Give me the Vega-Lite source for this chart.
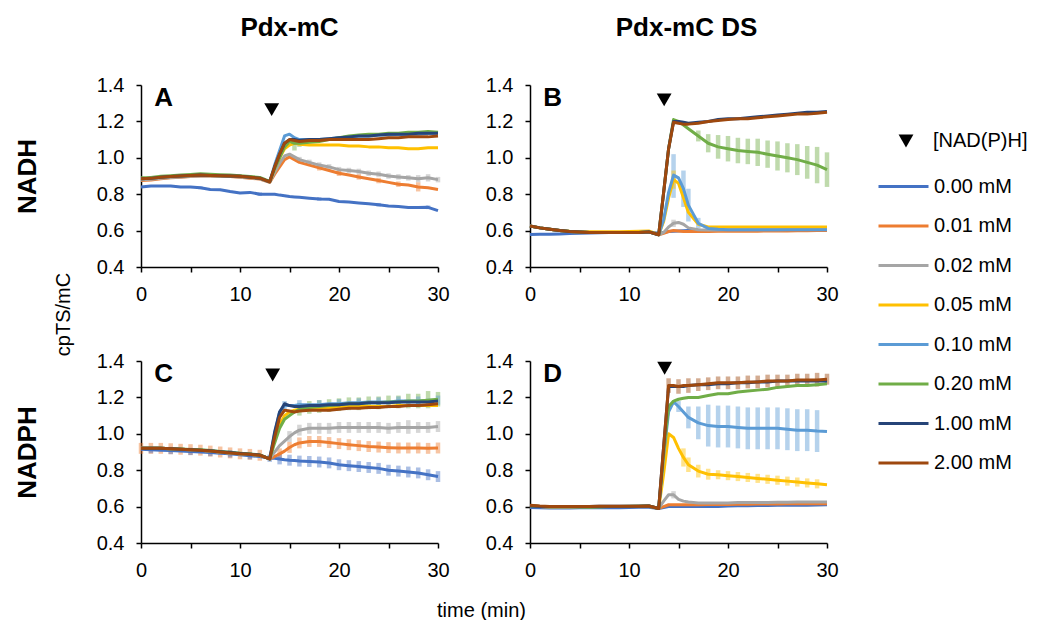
{
"$schema": "https://vega.github.io/schema/vega-lite/v6.json",
"background": "white",
"padding": {"left": 14, "top": 15, "right": 0, "bottom": 0},
"config": {
 "font": "Liberation Sans",
 "view": {"stroke": null},
 "axis": {"domainColor": "#000", "domainWidth": 1.5, "tickColor": "#000", "tickWidth": 1.5, "tickSize": 5, "labelFontSize": 20, "labelColor": "#000", "titleColor": "#000", "grid": false},
 "axisX": {"values": [0,5,10,15,20,25,30], "labelExpr": "datum.value % 10 === 0 ? datum.label : ''", "labelFlush": false, "labelPadding": 12},
 "axisY": {"values": [0.4,0.6,0.8,1.0,1.2,1.4], "format": ".1f", "labelFlush": false, "labelPadding": 12},
 "legend": {"labelFontSize": 20, "labelColor": "#000", "rowPadding": 2.5},
 "title": {"color": "#000"}
},
"datasets": {
 "conc": [
  {"k":"a","conc":"0.00 mM"},{"k":"b","conc":"0.01 mM"},{"k":"c","conc":"0.02 mM"},{"k":"d","conc":"0.05 mM"},
  {"k":"e","conc":"0.10 mM"},{"k":"f","conc":"0.20 mM"},{"k":"g","conc":"1.00 mM"},{"k":"h","conc":"2.00 mM"}
 ],
 "ann": [
  {"p":"A","tt":13.2,"ty":1.265,"m":"[NAD(P)H]","lt":1.35,"ly":1.285,"lab":"A"},
  {"p":"B","tt":13.55,"ty":1.318,"m":"[NAD(P)H]","lt":1.35,"ly":1.285,"lab":"B"},
  {"p":"C","tt":13.3,"ty":1.323,"m":"[NAD(P)H]","lt":1.35,"ly":1.285,"lab":"C"},
  {"p":"D","tt":13.6,"ty":1.36,"m":"[NAD(P)H]","lt":1.35,"ly":1.285,"lab":"D"}
 ],
 "lines": [
  {"p":"A","t":0,"a":0.84,"b":0.875,"c":0.88,"d":0.885,"e":0.885,"f":0.89,"g":0.885,"h":0.885},
  {"p":"A","t":1,"a":0.845,"b":0.878,"c":0.882,"d":0.887,"e":0.887,"f":0.892,"g":0.887,"h":0.887},
  {"p":"A","t":2,"a":0.845,"b":0.885,"c":0.888,"d":0.893,"e":0.893,"f":0.898,"g":0.893,"h":0.893},
  {"p":"A","t":3,"a":0.845,"b":0.89,"c":0.892,"d":0.897,"e":0.897,"f":0.902,"g":0.897,"h":0.897},
  {"p":"A","t":4,"a":0.84,"b":0.893,"c":0.895,"d":0.9,"e":0.9,"f":0.905,"g":0.9,"h":0.9},
  {"p":"A","t":5,"a":0.84,"b":0.897,"c":0.898,"d":0.903,"e":0.903,"f":0.908,"g":0.903,"h":0.903},
  {"p":"A","t":6,"a":0.835,"b":0.9,"c":0.9,"d":0.905,"e":0.905,"f":0.912,"g":0.905,"h":0.905},
  {"p":"A","t":7,"a":0.826,"b":0.9,"c":0.9,"d":0.903,"e":0.903,"f":0.91,"g":0.903,"h":0.903},
  {"p":"A","t":8,"a":0.825,"b":0.9,"c":0.9,"d":0.902,"e":0.902,"f":0.907,"g":0.902,"h":0.902},
  {"p":"A","t":9,"a":0.815,"b":0.897,"c":0.898,"d":0.9,"e":0.9,"f":0.905,"g":0.9,"h":0.9},
  {"p":"A","t":10,"a":0.807,"b":0.893,"c":0.895,"d":0.898,"e":0.898,"f":0.902,"g":0.898,"h":0.898},
  {"p":"A","t":11,"a":0.81,"b":0.888,"c":0.89,"d":0.893,"e":0.893,"f":0.897,"g":0.893,"h":0.893},
  {"p":"A","t":12,"a":0.8,"b":0.883,"c":0.885,"d":0.888,"e":0.888,"f":0.892,"g":0.888,"h":0.888},
  {"p":"A","t":13,"a":0.8,"b":0.865,"c":0.866,"d":0.868,"e":0.868,"f":0.87,"g":0.868,"h":0.868},
  {"p":"A","t":13.5,"a":0.8,"b":0.91,"c":0.92,"d":0.94,"e":0.96,"f":0.94,"g":0.95,"h":0.95},
  {"p":"A","t":14,"a":0.795,"b":0.95,"c":0.97,"d":1.0,"e":1.04,"f":1.0,"g":1.02,"h":1.02},
  {"p":"A","t":14.5,"a":0.792,"b":0.99,"c":1.01,"d":1.05,"e":1.12,"f":1.06,"g":1.08,"h":1.08},
  {"p":"A","t":15,"a":0.787,"b":1.005,"c":1.02,"d":1.07,"e":1.13,"f":1.09,"g":1.1,"h":1.1},
  {"p":"A","t":15.5,"a":0.785,"b":0.99,"c":1.005,"d":1.08,"e":1.11,"f":1.08,"g":1.1,"h":1.095},
  {"p":"A","t":16,"a":0.783,"b":0.975,"c":0.99,"d":1.075,"e":1.1,"f":1.08,"g":1.095,"h":1.09},
  {"p":"A","t":17,"a":0.778,"b":0.96,"c":0.975,"d":1.07,"e":1.1,"f":1.085,"g":1.1,"h":1.095},
  {"p":"A","t":18,"a":0.774,"b":0.945,"c":0.96,"d":1.07,"e":1.1,"f":1.09,"g":1.1,"h":1.095},
  {"p":"A","t":19,"a":0.772,"b":0.93,"c":0.95,"d":1.07,"e":1.105,"f":1.1,"g":1.105,"h":1.1},
  {"p":"A","t":20,"a":0.76,"b":0.915,"c":0.935,"d":1.07,"e":1.11,"f":1.11,"g":1.11,"h":1.1},
  {"p":"A","t":21,"a":0.757,"b":0.905,"c":0.93,"d":1.065,"e":1.115,"f":1.12,"g":1.115,"h":1.1},
  {"p":"A","t":22,"a":0.752,"b":0.895,"c":0.925,"d":1.065,"e":1.12,"f":1.125,"g":1.12,"h":1.1},
  {"p":"A","t":23,"a":0.748,"b":0.885,"c":0.915,"d":1.06,"e":1.12,"f":1.13,"g":1.12,"h":1.1},
  {"p":"A","t":24,"a":0.742,"b":0.875,"c":0.91,"d":1.06,"e":1.125,"f":1.13,"g":1.125,"h":1.105},
  {"p":"A","t":25,"a":0.735,"b":0.865,"c":0.9,"d":1.055,"e":1.125,"f":1.135,"g":1.13,"h":1.11},
  {"p":"A","t":26,"a":0.733,"b":0.855,"c":0.895,"d":1.055,"e":1.13,"f":1.135,"g":1.13,"h":1.11},
  {"p":"A","t":27,"a":0.727,"b":0.85,"c":0.89,"d":1.05,"e":1.13,"f":1.14,"g":1.13,"h":1.115},
  {"p":"A","t":28,"a":0.727,"b":0.84,"c":0.885,"d":1.05,"e":1.13,"f":1.14,"g":1.135,"h":1.115},
  {"p":"A","t":29,"a":0.728,"b":0.835,"c":0.89,"d":1.055,"e":1.135,"f":1.145,"g":1.135,"h":1.115},
  {"p":"A","t":30,"a":0.71,"b":0.826,"c":0.88,"d":1.055,"e":1.135,"f":1.14,"g":1.135,"h":1.12},

  {"p":"B","t":0,"a":0.578,"b":0.625,"c":0.625,"d":0.625,"e":0.625,"f":0.625,"g":0.625,"h":0.625},
  {"p":"B","t":1,"a":0.58,"b":0.615,"c":0.615,"d":0.615,"e":0.615,"f":0.615,"g":0.615,"h":0.615},
  {"p":"B","t":2,"a":0.58,"b":0.607,"c":0.607,"d":0.607,"e":0.607,"f":0.607,"g":0.607,"h":0.607},
  {"p":"B","t":3,"a":0.582,"b":0.6,"c":0.6,"d":0.6,"e":0.6,"f":0.6,"g":0.6,"h":0.6},
  {"p":"B","t":4,"a":0.584,"b":0.595,"c":0.595,"d":0.596,"e":0.595,"f":0.595,"g":0.595,"h":0.595},
  {"p":"B","t":5,"a":0.585,"b":0.592,"c":0.592,"d":0.594,"e":0.592,"f":0.592,"g":0.592,"h":0.592},
  {"p":"B","t":6,"a":0.587,"b":0.59,"c":0.59,"d":0.593,"e":0.59,"f":0.59,"g":0.59,"h":0.59},
  {"p":"B","t":7,"a":0.588,"b":0.59,"c":0.59,"d":0.593,"e":0.59,"f":0.59,"g":0.59,"h":0.59},
  {"p":"B","t":8,"a":0.59,"b":0.59,"c":0.59,"d":0.593,"e":0.59,"f":0.59,"g":0.59,"h":0.59},
  {"p":"B","t":9,"a":0.59,"b":0.59,"c":0.59,"d":0.594,"e":0.59,"f":0.59,"g":0.59,"h":0.59},
  {"p":"B","t":10,"a":0.59,"b":0.59,"c":0.59,"d":0.595,"e":0.59,"f":0.59,"g":0.59,"h":0.59},
  {"p":"B","t":11,"a":0.59,"b":0.59,"c":0.59,"d":0.596,"e":0.59,"f":0.59,"g":0.59,"h":0.59},
  {"p":"B","t":12,"a":0.592,"b":0.593,"c":0.593,"d":0.598,"e":0.593,"f":0.593,"g":0.593,"h":0.593},
  {"p":"B","t":13,"a":0.585,"b":0.577,"c":0.577,"d":0.578,"e":0.577,"f":0.577,"g":0.577,"h":0.577},
  {"p":"B","t":13.5,"a":0.59,"b":0.585,"c":0.59,"d":0.65,"e":0.66,"f":0.81,"g":0.81,"h":0.81},
  {"p":"B","t":14,"a":0.595,"b":0.595,"c":0.62,"d":0.78,"e":0.81,"f":1.05,"g":1.05,"h":1.05},
  {"p":"B","t":14.5,"a":0.597,"b":0.6,"c":0.64,"d":0.88,"e":0.905,"f":1.21,"g":1.2,"h":1.195},
  {"p":"B","t":15,"a":0.598,"b":0.598,"c":0.645,"d":0.86,"e":0.89,"f":1.2,"g":1.2,"h":1.19},
  {"p":"B","t":15.5,"a":0.599,"b":0.595,"c":0.635,"d":0.78,"e":0.83,"f":1.18,"g":1.195,"h":1.185},
  {"p":"B","t":16,"a":0.6,"b":0.595,"c":0.615,"d":0.7,"e":0.74,"f":1.16,"g":1.19,"h":1.185},
  {"p":"B","t":17,"a":0.6,"b":0.595,"c":0.605,"d":0.635,"e":0.64,"f":1.12,"g":1.195,"h":1.19},
  {"p":"B","t":18,"a":0.6,"b":0.595,"c":0.603,"d":0.62,"e":0.612,"f":1.08,"g":1.2,"h":1.2},
  {"p":"B","t":19,"a":0.6,"b":0.596,"c":0.603,"d":0.62,"e":0.607,"f":1.06,"g":1.21,"h":1.205},
  {"p":"B","t":20,"a":0.6,"b":0.596,"c":0.604,"d":0.62,"e":0.605,"f":1.05,"g":1.215,"h":1.21},
  {"p":"B","t":21,"a":0.6,"b":0.597,"c":0.604,"d":0.62,"e":0.605,"f":1.04,"g":1.215,"h":1.215},
  {"p":"B","t":22,"a":0.601,"b":0.597,"c":0.605,"d":0.62,"e":0.605,"f":1.035,"g":1.22,"h":1.215},
  {"p":"B","t":23,"a":0.601,"b":0.597,"c":0.605,"d":0.62,"e":0.605,"f":1.03,"g":1.225,"h":1.22},
  {"p":"B","t":24,"a":0.602,"b":0.598,"c":0.605,"d":0.62,"e":0.605,"f":1.02,"g":1.23,"h":1.225},
  {"p":"B","t":25,"a":0.602,"b":0.598,"c":0.605,"d":0.62,"e":0.605,"f":1.01,"g":1.235,"h":1.23},
  {"p":"B","t":26,"a":0.603,"b":0.598,"c":0.606,"d":0.62,"e":0.605,"f":1.0,"g":1.24,"h":1.235},
  {"p":"B","t":27,"a":0.603,"b":0.599,"c":0.606,"d":0.62,"e":0.605,"f":0.99,"g":1.245,"h":1.24},
  {"p":"B","t":28,"a":0.604,"b":0.599,"c":0.607,"d":0.62,"e":0.605,"f":0.975,"g":1.25,"h":1.24},
  {"p":"B","t":29,"a":0.604,"b":0.6,"c":0.607,"d":0.62,"e":0.605,"f":0.96,"g":1.25,"h":1.245},
  {"p":"B","t":30,"a":0.605,"b":0.6,"c":0.608,"d":0.62,"e":0.605,"f":0.935,"g":1.255,"h":1.25},

  {"p":"C","t":0,"a":0.915,"b":0.92,"c":0.92,"d":0.92,"e":0.92,"f":0.92,"g":0.92,"h":0.92},
  {"p":"C","t":1,"a":0.913,"b":0.92,"c":0.92,"d":0.92,"e":0.92,"f":0.92,"g":0.92,"h":0.92},
  {"p":"C","t":2,"a":0.91,"b":0.92,"c":0.92,"d":0.92,"e":0.92,"f":0.92,"g":0.92,"h":0.92},
  {"p":"C","t":3,"a":0.908,"b":0.918,"c":0.918,"d":0.918,"e":0.918,"f":0.918,"g":0.918,"h":0.918},
  {"p":"C","t":4,"a":0.905,"b":0.915,"c":0.915,"d":0.915,"e":0.915,"f":0.916,"g":0.915,"h":0.915},
  {"p":"C","t":5,"a":0.903,"b":0.913,"c":0.913,"d":0.913,"e":0.913,"f":0.914,"g":0.913,"h":0.913},
  {"p":"C","t":6,"a":0.9,"b":0.91,"c":0.91,"d":0.91,"e":0.91,"f":0.912,"g":0.91,"h":0.91},
  {"p":"C","t":7,"a":0.897,"b":0.905,"c":0.905,"d":0.905,"e":0.905,"f":0.908,"g":0.907,"h":0.905},
  {"p":"C","t":8,"a":0.893,"b":0.9,"c":0.9,"d":0.9,"e":0.9,"f":0.903,"g":0.902,"h":0.9},
  {"p":"C","t":9,"a":0.89,"b":0.895,"c":0.895,"d":0.895,"e":0.895,"f":0.898,"g":0.897,"h":0.895},
  {"p":"C","t":10,"a":0.885,"b":0.89,"c":0.89,"d":0.89,"e":0.89,"f":0.893,"g":0.892,"h":0.89},
  {"p":"C","t":11,"a":0.88,"b":0.887,"c":0.887,"d":0.887,"e":0.887,"f":0.889,"g":0.888,"h":0.887},
  {"p":"C","t":12,"a":0.875,"b":0.882,"c":0.882,"d":0.882,"e":0.882,"f":0.884,"g":0.883,"h":0.882},
  {"p":"C","t":13,"a":0.866,"b":0.862,"c":0.862,"d":0.862,"e":0.862,"f":0.862,"g":0.862,"h":0.862},
  {"p":"C","t":13.5,"a":0.865,"b":0.875,"c":0.9,"d":0.97,"e":1.0,"f":0.95,"g":1.01,"h":0.98},
  {"p":"C","t":14,"a":0.862,"b":0.89,"c":0.935,"d":1.05,"e":1.12,"f":1.03,"g":1.12,"h":1.09},
  {"p":"C","t":14.5,"a":0.858,"b":0.905,"c":0.96,"d":1.1,"e":1.155,"f":1.08,"g":1.165,"h":1.13},
  {"p":"C","t":15,"a":0.855,"b":0.925,"c":0.985,"d":1.12,"e":1.155,"f":1.1,"g":1.155,"h":1.125},
  {"p":"C","t":15.5,"a":0.853,"b":0.94,"c":1.005,"d":1.13,"e":1.155,"f":1.12,"g":1.15,"h":1.12},
  {"p":"C","t":16,"a":0.85,"b":0.95,"c":1.02,"d":1.135,"e":1.16,"f":1.135,"g":1.15,"h":1.125},
  {"p":"C","t":17,"a":0.848,"b":0.958,"c":1.03,"d":1.14,"e":1.16,"f":1.145,"g":1.155,"h":1.13},
  {"p":"C","t":18,"a":0.845,"b":0.958,"c":1.03,"d":1.14,"e":1.16,"f":1.15,"g":1.155,"h":1.13},
  {"p":"C","t":19,"a":0.84,"b":0.952,"c":1.03,"d":1.145,"e":1.165,"f":1.155,"g":1.16,"h":1.13},
  {"p":"C","t":20,"a":0.83,"b":0.946,"c":1.035,"d":1.145,"e":1.165,"f":1.16,"g":1.16,"h":1.135},
  {"p":"C","t":21,"a":0.825,"b":0.94,"c":1.035,"d":1.15,"e":1.17,"f":1.165,"g":1.165,"h":1.14},
  {"p":"C","t":22,"a":0.82,"b":0.935,"c":1.035,"d":1.15,"e":1.17,"f":1.165,"g":1.165,"h":1.14},
  {"p":"C","t":23,"a":0.815,"b":0.93,"c":1.035,"d":1.15,"e":1.175,"f":1.17,"g":1.17,"h":1.145},
  {"p":"C","t":24,"a":0.81,"b":0.927,"c":1.035,"d":1.15,"e":1.175,"f":1.17,"g":1.17,"h":1.145},
  {"p":"C","t":25,"a":0.8,"b":0.924,"c":1.03,"d":1.15,"e":1.175,"f":1.175,"g":1.17,"h":1.15},
  {"p":"C","t":26,"a":0.795,"b":0.922,"c":1.035,"d":1.155,"e":1.18,"f":1.175,"g":1.175,"h":1.15},
  {"p":"C","t":27,"a":0.79,"b":0.922,"c":1.035,"d":1.155,"e":1.18,"f":1.18,"g":1.175,"h":1.155},
  {"p":"C","t":28,"a":0.785,"b":0.922,"c":1.035,"d":1.155,"e":1.18,"f":1.18,"g":1.175,"h":1.155},
  {"p":"C","t":29,"a":0.775,"b":0.92,"c":1.035,"d":1.155,"e":1.185,"f":1.185,"g":1.175,"h":1.16},
  {"p":"C","t":30,"a":0.765,"b":0.922,"c":1.04,"d":1.155,"e":1.185,"f":1.19,"g":1.18,"h":1.165},

  {"p":"D","t":0,"a":0.595,"b":0.603,"c":0.603,"d":0.603,"e":0.603,"f":0.603,"g":0.603,"h":0.608},
  {"p":"D","t":1,"a":0.593,"b":0.6,"c":0.6,"d":0.6,"e":0.6,"f":0.6,"g":0.601,"h":0.603},
  {"p":"D","t":2,"a":0.592,"b":0.598,"c":0.599,"d":0.599,"e":0.599,"f":0.599,"g":0.6,"h":0.6},
  {"p":"D","t":3,"a":0.592,"b":0.598,"c":0.599,"d":0.599,"e":0.599,"f":0.599,"g":0.6,"h":0.6},
  {"p":"D","t":4,"a":0.592,"b":0.598,"c":0.599,"d":0.599,"e":0.599,"f":0.599,"g":0.6,"h":0.6},
  {"p":"D","t":5,"a":0.593,"b":0.599,"c":0.6,"d":0.6,"e":0.6,"f":0.598,"g":0.601,"h":0.601},
  {"p":"D","t":6,"a":0.593,"b":0.599,"c":0.6,"d":0.6,"e":0.6,"f":0.597,"g":0.601,"h":0.601},
  {"p":"D","t":7,"a":0.593,"b":0.6,"c":0.6,"d":0.6,"e":0.6,"f":0.598,"g":0.602,"h":0.602},
  {"p":"D","t":8,"a":0.594,"b":0.6,"c":0.601,"d":0.601,"e":0.601,"f":0.6,"g":0.602,"h":0.602},
  {"p":"D","t":9,"a":0.594,"b":0.6,"c":0.601,"d":0.601,"e":0.601,"f":0.601,"g":0.602,"h":0.602},
  {"p":"D","t":10,"a":0.595,"b":0.601,"c":0.601,"d":0.601,"e":0.601,"f":0.602,"g":0.602,"h":0.602},
  {"p":"D","t":11,"a":0.596,"b":0.601,"c":0.602,"d":0.602,"e":0.602,"f":0.602,"g":0.602,"h":0.602},
  {"p":"D","t":12,"a":0.597,"b":0.602,"c":0.603,"d":0.603,"e":0.603,"f":0.603,"g":0.603,"h":0.603},
  {"p":"D","t":13,"a":0.59,"b":0.59,"c":0.59,"d":0.59,"e":0.59,"f":0.59,"g":0.59,"h":0.59},
  {"p":"D","t":13.5,"a":0.595,"b":0.6,"c":0.63,"d":0.78,"e":0.88,"f":0.9,"g":0.93,"h":0.93},
  {"p":"D","t":14,"a":0.6,"b":0.61,"c":0.665,"d":1.0,"e":1.12,"f":1.15,"g":1.26,"h":1.265},
  {"p":"D","t":14.5,"a":0.6,"b":0.61,"c":0.665,"d":0.98,"e":1.175,"f":1.18,"g":1.26,"h":1.265},
  {"p":"D","t":15,"a":0.6,"b":0.61,"c":0.64,"d":0.92,"e":1.15,"f":1.19,"g":1.26,"h":1.26},
  {"p":"D","t":15.5,"a":0.6,"b":0.61,"c":0.63,"d":0.87,"e":1.12,"f":1.195,"g":1.26,"h":1.265},
  {"p":"D","t":16,"a":0.6,"b":0.61,"c":0.625,"d":0.83,"e":1.09,"f":1.2,"g":1.265,"h":1.265},
  {"p":"D","t":17,"a":0.6,"b":0.61,"c":0.62,"d":0.795,"e":1.06,"f":1.2,"g":1.27,"h":1.27},
  {"p":"D","t":18,"a":0.6,"b":0.612,"c":0.62,"d":0.778,"e":1.045,"f":1.21,"g":1.27,"h":1.275},
  {"p":"D","t":19,"a":0.6,"b":0.612,"c":0.62,"d":0.775,"e":1.04,"f":1.22,"g":1.275,"h":1.28},
  {"p":"D","t":20,"a":0.603,"b":0.612,"c":0.62,"d":0.77,"e":1.04,"f":1.22,"g":1.275,"h":1.28},
  {"p":"D","t":21,"a":0.605,"b":0.613,"c":0.622,"d":0.765,"e":1.035,"f":1.23,"g":1.28,"h":1.28},
  {"p":"D","t":22,"a":0.605,"b":0.613,"c":0.622,"d":0.76,"e":1.03,"f":1.235,"g":1.28,"h":1.285},
  {"p":"D","t":23,"a":0.606,"b":0.614,"c":0.623,"d":0.755,"e":1.03,"f":1.24,"g":1.285,"h":1.285},
  {"p":"D","t":24,"a":0.606,"b":0.614,"c":0.623,"d":0.75,"e":1.03,"f":1.245,"g":1.285,"h":1.29},
  {"p":"D","t":25,"a":0.607,"b":0.614,"c":0.624,"d":0.745,"e":1.03,"f":1.255,"g":1.29,"h":1.29},
  {"p":"D","t":26,"a":0.607,"b":0.615,"c":0.624,"d":0.74,"e":1.025,"f":1.26,"g":1.29,"h":1.29},
  {"p":"D","t":27,"a":0.608,"b":0.615,"c":0.625,"d":0.735,"e":1.02,"f":1.265,"g":1.29,"h":1.295},
  {"p":"D","t":28,"a":0.608,"b":0.615,"c":0.625,"d":0.73,"e":1.02,"f":1.265,"g":1.29,"h":1.295},
  {"p":"D","t":29,"a":0.609,"b":0.615,"c":0.625,"d":0.725,"e":1.015,"f":1.27,"g":1.29,"h":1.295},
  {"p":"D","t":30,"a":0.61,"b":0.615,"c":0.625,"d":0.72,"e":1.012,"f":1.275,"g":1.29,"h":1.3}
 ],
 "err": [
  {"p":"A","conc":"0.02 mM","t":16,"lo":0.975,"hi":1.005},
  {"p":"A","conc":"0.02 mM","t":17,"lo":0.96,"hi":0.99},
  {"p":"A","conc":"0.02 mM","t":18,"lo":0.945,"hi":0.975},
  {"p":"A","conc":"0.02 mM","t":19,"lo":0.935,"hi":0.965},
  {"p":"A","conc":"0.02 mM","t":20,"lo":0.92,"hi":0.95},
  {"p":"A","conc":"0.02 mM","t":21,"lo":0.915,"hi":0.945},
  {"p":"A","conc":"0.02 mM","t":22,"lo":0.91,"hi":0.94},
  {"p":"A","conc":"0.02 mM","t":23,"lo":0.9,"hi":0.93},
  {"p":"A","conc":"0.02 mM","t":24,"lo":0.895,"hi":0.925},
  {"p":"A","conc":"0.02 mM","t":25,"lo":0.885,"hi":0.915},
  {"p":"A","conc":"0.02 mM","t":26,"lo":0.88,"hi":0.91},
  {"p":"A","conc":"0.02 mM","t":27,"lo":0.875,"hi":0.905},
  {"p":"A","conc":"0.02 mM","t":28,"lo":0.865,"hi":0.905},
  {"p":"A","conc":"0.02 mM","t":29,"lo":0.87,"hi":0.91},
  {"p":"A","conc":"0.02 mM","t":30,"lo":0.865,"hi":0.895},
  {"p":"A","conc":"0.01 mM","t":18,"lo":0.93,"hi":0.96},
  {"p":"A","conc":"0.01 mM","t":20,"lo":0.9,"hi":0.93},
  {"p":"A","conc":"0.01 mM","t":22,"lo":0.88,"hi":0.91},
  {"p":"A","conc":"0.01 mM","t":24,"lo":0.86,"hi":0.89},
  {"p":"A","conc":"0.01 mM","t":26,"lo":0.84,"hi":0.87},
  {"p":"A","conc":"0.01 mM","t":28,"lo":0.815,"hi":0.865},
  {"p":"A","conc":"0.20 mM","t":15.5,"lo":1.04,"hi":1.09},
  {"p":"A","conc":"0.20 mM","t":16,"lo":1.06,"hi":1.1},
  {"p":"A","conc":"0.00 mM","t":6,"lo":0.827,"hi":0.843},
  {"p":"A","conc":"0.00 mM","t":12,"lo":0.79,"hi":0.81},
  {"p":"A","conc":"0.00 mM","t":18,"lo":0.764,"hi":0.784},
  {"p":"A","conc":"0.00 mM","t":24,"lo":0.732,"hi":0.752},
  {"p":"A","conc":"0.00 mM","t":29,"lo":0.718,"hi":0.738},

  {"p":"B","conc":"0.20 mM","t":17,"lo":1.09,"hi":1.15},
  {"p":"B","conc":"0.20 mM","t":18,"lo":1.03,"hi":1.13},
  {"p":"B","conc":"0.20 mM","t":19,"lo":0.995,"hi":1.125},
  {"p":"B","conc":"0.20 mM","t":20,"lo":0.98,"hi":1.12},
  {"p":"B","conc":"0.20 mM","t":21,"lo":0.97,"hi":1.11},
  {"p":"B","conc":"0.20 mM","t":22,"lo":0.965,"hi":1.105},
  {"p":"B","conc":"0.20 mM","t":23,"lo":0.955,"hi":1.105},
  {"p":"B","conc":"0.20 mM","t":24,"lo":0.945,"hi":1.095},
  {"p":"B","conc":"0.20 mM","t":25,"lo":0.93,"hi":1.09},
  {"p":"B","conc":"0.20 mM","t":26,"lo":0.92,"hi":1.08},
  {"p":"B","conc":"0.20 mM","t":27,"lo":0.905,"hi":1.075},
  {"p":"B","conc":"0.20 mM","t":28,"lo":0.885,"hi":1.065},
  {"p":"B","conc":"0.20 mM","t":29,"lo":0.86,"hi":1.06},
  {"p":"B","conc":"0.20 mM","t":30,"lo":0.84,"hi":1.03},
  {"p":"B","conc":"0.10 mM","t":14.5,"lo":0.78,"hi":1.02},
  {"p":"B","conc":"0.10 mM","t":15.5,"lo":0.73,"hi":0.93},
  {"p":"B","conc":"0.10 mM","t":16,"lo":0.65,"hi":0.83},
  {"p":"B","conc":"0.10 mM","t":17,"lo":0.61,"hi":0.67},
  {"p":"B","conc":"0.05 mM","t":14.5,"lo":0.83,"hi":0.93},
  {"p":"B","conc":"0.02 mM","t":14.5,"lo":0.62,"hi":0.66},

  {"p":"C","conc":"0.01 mM","t":0,"lo":0.89,"hi":0.95},
  {"p":"C","conc":"0.01 mM","t":1,"lo":0.89,"hi":0.95},
  {"p":"C","conc":"0.01 mM","t":2,"lo":0.89,"hi":0.95},
  {"p":"C","conc":"0.01 mM","t":3,"lo":0.888,"hi":0.948},
  {"p":"C","conc":"0.01 mM","t":4,"lo":0.885,"hi":0.945},
  {"p":"C","conc":"0.01 mM","t":5,"lo":0.883,"hi":0.943},
  {"p":"C","conc":"0.01 mM","t":6,"lo":0.88,"hi":0.94},
  {"p":"C","conc":"0.01 mM","t":7,"lo":0.875,"hi":0.935},
  {"p":"C","conc":"0.01 mM","t":8,"lo":0.87,"hi":0.93},
  {"p":"C","conc":"0.01 mM","t":9,"lo":0.865,"hi":0.925},
  {"p":"C","conc":"0.01 mM","t":10,"lo":0.86,"hi":0.92},
  {"p":"C","conc":"0.01 mM","t":11,"lo":0.857,"hi":0.917},
  {"p":"C","conc":"0.01 mM","t":12,"lo":0.852,"hi":0.912},
  {"p":"C","conc":"0.01 mM","t":14,"lo":0.86,"hi":0.92},
  {"p":"C","conc":"0.01 mM","t":15,"lo":0.895,"hi":0.955},
  {"p":"C","conc":"0.01 mM","t":16,"lo":0.92,"hi":0.98},
  {"p":"C","conc":"0.01 mM","t":17,"lo":0.928,"hi":0.988},
  {"p":"C","conc":"0.01 mM","t":18,"lo":0.928,"hi":0.988},
  {"p":"C","conc":"0.01 mM","t":19,"lo":0.922,"hi":0.982},
  {"p":"C","conc":"0.01 mM","t":20,"lo":0.916,"hi":0.976},
  {"p":"C","conc":"0.01 mM","t":21,"lo":0.91,"hi":0.97},
  {"p":"C","conc":"0.01 mM","t":22,"lo":0.905,"hi":0.965},
  {"p":"C","conc":"0.01 mM","t":23,"lo":0.9,"hi":0.96},
  {"p":"C","conc":"0.01 mM","t":24,"lo":0.897,"hi":0.957},
  {"p":"C","conc":"0.01 mM","t":25,"lo":0.894,"hi":0.954},
  {"p":"C","conc":"0.01 mM","t":26,"lo":0.892,"hi":0.952},
  {"p":"C","conc":"0.01 mM","t":27,"lo":0.892,"hi":0.952},
  {"p":"C","conc":"0.01 mM","t":28,"lo":0.892,"hi":0.952},
  {"p":"C","conc":"0.01 mM","t":29,"lo":0.89,"hi":0.95},
  {"p":"C","conc":"0.01 mM","t":30,"lo":0.892,"hi":0.952},
  {"p":"C","conc":"0.00 mM","t":1,"lo":0.893,"hi":0.933},
  {"p":"C","conc":"0.00 mM","t":3,"lo":0.888,"hi":0.928},
  {"p":"C","conc":"0.00 mM","t":5,"lo":0.883,"hi":0.923},
  {"p":"C","conc":"0.00 mM","t":7,"lo":0.877,"hi":0.917},
  {"p":"C","conc":"0.00 mM","t":9,"lo":0.87,"hi":0.91},
  {"p":"C","conc":"0.00 mM","t":11,"lo":0.86,"hi":0.9},
  {"p":"C","conc":"0.00 mM","t":13,"lo":0.846,"hi":0.886},
  {"p":"C","conc":"0.00 mM","t":14,"lo":0.832,"hi":0.892},
  {"p":"C","conc":"0.00 mM","t":15,"lo":0.825,"hi":0.885},
  {"p":"C","conc":"0.00 mM","t":16,"lo":0.82,"hi":0.88},
  {"p":"C","conc":"0.00 mM","t":17,"lo":0.818,"hi":0.878},
  {"p":"C","conc":"0.00 mM","t":18,"lo":0.815,"hi":0.875},
  {"p":"C","conc":"0.00 mM","t":19,"lo":0.81,"hi":0.87},
  {"p":"C","conc":"0.00 mM","t":20,"lo":0.8,"hi":0.86},
  {"p":"C","conc":"0.00 mM","t":21,"lo":0.795,"hi":0.855},
  {"p":"C","conc":"0.00 mM","t":22,"lo":0.79,"hi":0.85},
  {"p":"C","conc":"0.00 mM","t":23,"lo":0.785,"hi":0.845},
  {"p":"C","conc":"0.00 mM","t":24,"lo":0.78,"hi":0.84},
  {"p":"C","conc":"0.00 mM","t":25,"lo":0.77,"hi":0.83},
  {"p":"C","conc":"0.00 mM","t":26,"lo":0.765,"hi":0.825},
  {"p":"C","conc":"0.00 mM","t":27,"lo":0.76,"hi":0.82},
  {"p":"C","conc":"0.00 mM","t":28,"lo":0.755,"hi":0.815},
  {"p":"C","conc":"0.00 mM","t":29,"lo":0.745,"hi":0.805},
  {"p":"C","conc":"0.00 mM","t":30,"lo":0.735,"hi":0.795},
  {"p":"C","conc":"0.02 mM","t":15,"lo":0.955,"hi":1.015},
  {"p":"C","conc":"0.02 mM","t":16,"lo":0.99,"hi":1.05},
  {"p":"C","conc":"0.02 mM","t":17,"lo":1.0,"hi":1.06},
  {"p":"C","conc":"0.02 mM","t":18,"lo":1.0,"hi":1.06},
  {"p":"C","conc":"0.02 mM","t":19,"lo":1.0,"hi":1.06},
  {"p":"C","conc":"0.02 mM","t":20,"lo":1.005,"hi":1.065},
  {"p":"C","conc":"0.02 mM","t":21,"lo":1.005,"hi":1.065},
  {"p":"C","conc":"0.02 mM","t":22,"lo":1.005,"hi":1.065},
  {"p":"C","conc":"0.02 mM","t":23,"lo":1.005,"hi":1.065},
  {"p":"C","conc":"0.02 mM","t":24,"lo":1.005,"hi":1.065},
  {"p":"C","conc":"0.02 mM","t":25,"lo":1.0,"hi":1.06},
  {"p":"C","conc":"0.02 mM","t":26,"lo":1.005,"hi":1.065},
  {"p":"C","conc":"0.02 mM","t":27,"lo":1.0,"hi":1.075},
  {"p":"C","conc":"0.02 mM","t":28,"lo":1.005,"hi":1.065},
  {"p":"C","conc":"0.02 mM","t":29,"lo":1.005,"hi":1.065},
  {"p":"C","conc":"0.02 mM","t":30,"lo":1.01,"hi":1.07},
  {"p":"C","conc":"0.20 mM","t":16,"lo":1.1,"hi":1.17},
  {"p":"C","conc":"0.20 mM","t":17,"lo":1.11,"hi":1.18},
  {"p":"C","conc":"0.20 mM","t":18,"lo":1.115,"hi":1.185},
  {"p":"C","conc":"0.20 mM","t":19,"lo":1.12,"hi":1.19},
  {"p":"C","conc":"0.20 mM","t":20,"lo":1.125,"hi":1.195},
  {"p":"C","conc":"0.20 mM","t":21,"lo":1.13,"hi":1.2},
  {"p":"C","conc":"0.20 mM","t":22,"lo":1.13,"hi":1.2},
  {"p":"C","conc":"0.20 mM","t":23,"lo":1.135,"hi":1.205},
  {"p":"C","conc":"0.20 mM","t":24,"lo":1.135,"hi":1.205},
  {"p":"C","conc":"0.20 mM","t":25,"lo":1.14,"hi":1.21},
  {"p":"C","conc":"0.20 mM","t":26,"lo":1.14,"hi":1.21},
  {"p":"C","conc":"0.20 mM","t":27,"lo":1.14,"hi":1.22},
  {"p":"C","conc":"0.20 mM","t":28,"lo":1.14,"hi":1.22},
  {"p":"C","conc":"0.20 mM","t":29,"lo":1.14,"hi":1.235},
  {"p":"C","conc":"0.20 mM","t":30,"lo":1.15,"hi":1.23},
  {"p":"C","conc":"0.10 mM","t":14.5,"lo":1.12,"hi":1.18},
  {"p":"C","conc":"0.10 mM","t":16,"lo":1.135,"hi":1.185},
  {"p":"C","conc":"0.10 mM","t":18,"lo":1.135,"hi":1.185},
  {"p":"C","conc":"0.10 mM","t":20,"lo":1.14,"hi":1.19},
  {"p":"C","conc":"0.10 mM","t":22,"lo":1.145,"hi":1.195},
  {"p":"C","conc":"0.10 mM","t":24,"lo":1.15,"hi":1.2},
  {"p":"C","conc":"0.10 mM","t":26,"lo":1.155,"hi":1.205},
  {"p":"C","conc":"0.10 mM","t":28,"lo":1.155,"hi":1.205},
  {"p":"C","conc":"0.10 mM","t":30,"lo":1.16,"hi":1.21},

  {"p":"D","conc":"2.00 mM","t":14,"lo":1.225,"hi":1.305},
  {"p":"D","conc":"2.00 mM","t":15,"lo":1.22,"hi":1.3},
  {"p":"D","conc":"2.00 mM","t":16,"lo":1.225,"hi":1.305},
  {"p":"D","conc":"2.00 mM","t":17,"lo":1.235,"hi":1.305},
  {"p":"D","conc":"2.00 mM","t":18,"lo":1.24,"hi":1.31},
  {"p":"D","conc":"2.00 mM","t":19,"lo":1.245,"hi":1.315},
  {"p":"D","conc":"2.00 mM","t":20,"lo":1.245,"hi":1.315},
  {"p":"D","conc":"2.00 mM","t":21,"lo":1.245,"hi":1.315},
  {"p":"D","conc":"2.00 mM","t":22,"lo":1.25,"hi":1.32},
  {"p":"D","conc":"2.00 mM","t":23,"lo":1.25,"hi":1.32},
  {"p":"D","conc":"2.00 mM","t":24,"lo":1.255,"hi":1.325},
  {"p":"D","conc":"2.00 mM","t":25,"lo":1.255,"hi":1.325},
  {"p":"D","conc":"2.00 mM","t":26,"lo":1.255,"hi":1.325},
  {"p":"D","conc":"2.00 mM","t":27,"lo":1.26,"hi":1.33},
  {"p":"D","conc":"2.00 mM","t":28,"lo":1.26,"hi":1.33},
  {"p":"D","conc":"2.00 mM","t":29,"lo":1.26,"hi":1.335},
  {"p":"D","conc":"2.00 mM","t":30,"lo":1.27,"hi":1.33},
  {"p":"D","conc":"0.10 mM","t":15,"lo":1.12,"hi":1.18},
  {"p":"D","conc":"0.10 mM","t":16,"lo":1.03,"hi":1.15},
  {"p":"D","conc":"0.10 mM","t":17,"lo":0.97,"hi":1.15},
  {"p":"D","conc":"0.10 mM","t":18,"lo":0.93,"hi":1.16},
  {"p":"D","conc":"0.10 mM","t":19,"lo":0.925,"hi":1.155},
  {"p":"D","conc":"0.10 mM","t":20,"lo":0.925,"hi":1.155},
  {"p":"D","conc":"0.10 mM","t":21,"lo":0.92,"hi":1.15},
  {"p":"D","conc":"0.10 mM","t":22,"lo":0.915,"hi":1.145},
  {"p":"D","conc":"0.10 mM","t":23,"lo":0.915,"hi":1.145},
  {"p":"D","conc":"0.10 mM","t":24,"lo":0.915,"hi":1.145},
  {"p":"D","conc":"0.10 mM","t":25,"lo":0.915,"hi":1.145},
  {"p":"D","conc":"0.10 mM","t":26,"lo":0.91,"hi":1.14},
  {"p":"D","conc":"0.10 mM","t":27,"lo":0.905,"hi":1.135},
  {"p":"D","conc":"0.10 mM","t":28,"lo":0.905,"hi":1.135},
  {"p":"D","conc":"0.10 mM","t":29,"lo":0.9,"hi":1.13},
  {"p":"D","conc":"0.05 mM","t":15.5,"lo":0.82,"hi":0.92},
  {"p":"D","conc":"0.05 mM","t":16,"lo":0.79,"hi":0.87},
  {"p":"D","conc":"0.05 mM","t":17,"lo":0.76,"hi":0.83},
  {"p":"D","conc":"0.05 mM","t":18,"lo":0.748,"hi":0.808},
  {"p":"D","conc":"0.05 mM","t":19,"lo":0.75,"hi":0.8},
  {"p":"D","conc":"0.05 mM","t":20,"lo":0.745,"hi":0.795},
  {"p":"D","conc":"0.05 mM","t":21,"lo":0.74,"hi":0.79},
  {"p":"D","conc":"0.05 mM","t":22,"lo":0.735,"hi":0.785},
  {"p":"D","conc":"0.05 mM","t":23,"lo":0.73,"hi":0.78},
  {"p":"D","conc":"0.05 mM","t":24,"lo":0.725,"hi":0.775},
  {"p":"D","conc":"0.05 mM","t":25,"lo":0.72,"hi":0.77},
  {"p":"D","conc":"0.05 mM","t":26,"lo":0.715,"hi":0.765},
  {"p":"D","conc":"0.05 mM","t":27,"lo":0.71,"hi":0.76},
  {"p":"D","conc":"0.05 mM","t":28,"lo":0.705,"hi":0.755},
  {"p":"D","conc":"0.05 mM","t":29,"lo":0.7,"hi":0.75},
  {"p":"D","conc":"0.02 mM","t":14.5,"lo":0.645,"hi":0.685}
 ]
},
"concat": [
 {
  "width": 297, "height": 182,
  "title": {"text": "Pdx-mC", "fontSize": 26, "fontWeight": "bold", "offset": 34},
  "layer": [
   {"data": {"name": "err"}, "transform": [{"filter": "datum.p == 'A'"}],
    "mark": {"type": "rule", "strokeWidth": 4.5, "opacity": 0.45},
    "encoding": {
     "x": {"field": "t", "type": "quantitative", "scale": {"domain": [0, 30], "nice": false}, "axis": {"title": null}},
     "y": {"field": "lo", "type": "quantitative", "scale": {"domain": [0.4, 1.4], "nice": false}, "axis": null},
     "y2": {"field": "hi"},
     "color": {"field": "conc", "type": "nominal", "scale": {"domain": ["0.00 mM","0.01 mM","0.02 mM","0.05 mM","0.10 mM","0.20 mM","1.00 mM","2.00 mM"], "range": ["#4472C4","#ED7D31","#A5A5A5","#FFC000","#5B9BD5","#70AD47","#264478","#9E480E"]}, "legend": {"title": null, "orient": "none", "legendX": 736, "legendY": 75, "symbolType": "stroke", "symbolSize": 2500, "symbolStrokeWidth": 3, "symbolOpacity": 1, "labelOffset": 4, "rowPadding": 2.5, "labelFontSize": 20}}}},
   {"data": {"name": "lines"}, "transform": [{"filter": "datum.p == 'A'"}, {"fold": ["a","b","c","d","e","f","g","h"], "as": ["k","y"]}, {"lookup": "k", "from": {"data": {"name": "conc"}, "key": "k", "fields": ["conc"]}}],
    "mark": {"type": "line", "strokeWidth": 3, "strokeJoin": "round"},
    "encoding": {
     "x": {"field": "t", "type": "quantitative", "scale": {"domain": [0, 30], "nice": false}, "axis": {"title": null}},
     "y": {"field": "y", "type": "quantitative", "scale": {"domain": [0.4, 1.4], "nice": false}, "axis": {"title": "NADH", "titleFontSize": 26, "titleFontWeight": "bold", "titlePadding": 56}},
     "color": {"field": "conc", "type": "nominal", "scale": {"domain": ["0.00 mM","0.01 mM","0.02 mM","0.05 mM","0.10 mM","0.20 mM","1.00 mM","2.00 mM"], "range": ["#4472C4","#ED7D31","#A5A5A5","#FFC000","#5B9BD5","#70AD47","#264478","#9E480E"]}, "legend": {"title": null, "orient": "none", "legendX": 736, "legendY": 75, "symbolType": "stroke", "symbolSize": 2500, "symbolStrokeWidth": 3, "symbolOpacity": 1, "labelOffset": 4, "rowPadding": 2.5, "labelFontSize": 20}}}},
   {"data": {"name": "ann"}, "transform": [{"filter": "datum.p == 'A'"}],
    "mark": {"type": "point", "filled": true, "size": 220, "color": "#000", "opacity": 1},
    "encoding": {
     "x": {"field": "tt", "type": "quantitative", "scale": {"domain": [0, 30], "nice": false}, "axis": {"title": null}},
     "y": {"field": "ty", "type": "quantitative", "scale": {"domain": [0.4, 1.4], "nice": false}, "axis": null},
     "shape": {"field": "m", "type": "nominal", "scale": {"domain": ["[NAD(P)H]"], "range": ["triangle-down"]}, "legend": {"title": null, "orient": "none", "legendX": 755, "legendY": 46, "symbolSize": 220, "symbolFillColor": "#000", "symbolStrokeColor": "#000", "symbolOpacity": 1, "labelOffset": 17, "labelFontSize": 20}}}},
   {"data": {"name": "ann"}, "transform": [{"filter": "datum.p == 'A'"}],
    "mark": {"type": "text", "fontSize": 26, "fontWeight": "bold", "align": "left", "baseline": "alphabetic", "color": "#000"},
    "encoding": {
     "x": {"field": "lt", "type": "quantitative", "scale": {"domain": [0, 30], "nice": false}, "axis": {"title": null}},
     "y": {"field": "ly", "type": "quantitative", "scale": {"domain": [0.4, 1.4], "nice": false}, "axis": {"orient": "left", "domain": false, "ticks": false, "labels": false, "title": "cpTS/mC", "titleX": -68, "titleY": 229, "titleFontSize": 20, "titleFontWeight": "normal"}},
     "text": {"field": "lab"}}}
  ],
  "resolve": {"axis": {"y": "independent"}}
 },
 {
  "width": 297, "height": 182,
  "title": {"text": "Pdx-mC DS", "fontSize": 26, "fontWeight": "bold", "offset": 34, "dx": 8},
  "layer": [
   {"data": {"name": "err"}, "transform": [{"filter": "datum.p == 'B'"}],
    "mark": {"type": "rule", "strokeWidth": 4.5, "opacity": 0.45},
    "encoding": {
     "x": {"field": "t", "type": "quantitative", "scale": {"domain": [0, 30], "nice": false}, "axis": {"title": null}},
     "y": {"field": "lo", "type": "quantitative", "scale": {"domain": [0.4, 1.4], "nice": false}, "axis": null},
     "y2": {"field": "hi"},
     "color": {"field": "conc", "type": "nominal", "scale": {"domain": ["0.00 mM","0.01 mM","0.02 mM","0.05 mM","0.10 mM","0.20 mM","1.00 mM","2.00 mM"], "range": ["#4472C4","#ED7D31","#A5A5A5","#FFC000","#5B9BD5","#70AD47","#264478","#9E480E"]}, "legend": {"title": null, "orient": "none", "legendX": 736, "legendY": 75, "symbolType": "stroke", "symbolSize": 2500, "symbolStrokeWidth": 3, "symbolOpacity": 1, "labelOffset": 4, "rowPadding": 2.5, "labelFontSize": 20}}}},
   {"data": {"name": "lines"}, "transform": [{"filter": "datum.p == 'B'"}, {"fold": ["a","b","c","d","e","f","g","h"], "as": ["k","y"]}, {"lookup": "k", "from": {"data": {"name": "conc"}, "key": "k", "fields": ["conc"]}}],
    "mark": {"type": "line", "strokeWidth": 3, "strokeJoin": "round"},
    "encoding": {
     "x": {"field": "t", "type": "quantitative", "scale": {"domain": [0, 30], "nice": false}, "axis": {"title": null}},
     "y": {"field": "y", "type": "quantitative", "scale": {"domain": [0.4, 1.4], "nice": false}, "axis": {"title": null}},
     "color": {"field": "conc", "type": "nominal", "scale": {"domain": ["0.00 mM","0.01 mM","0.02 mM","0.05 mM","0.10 mM","0.20 mM","1.00 mM","2.00 mM"], "range": ["#4472C4","#ED7D31","#A5A5A5","#FFC000","#5B9BD5","#70AD47","#264478","#9E480E"]}, "legend": {"title": null, "orient": "none", "legendX": 736, "legendY": 75, "symbolType": "stroke", "symbolSize": 2500, "symbolStrokeWidth": 3, "symbolOpacity": 1, "labelOffset": 4, "rowPadding": 2.5, "labelFontSize": 20}}}},
   {"data": {"name": "ann"}, "transform": [{"filter": "datum.p == 'B'"}],
    "mark": {"type": "point", "filled": true, "size": 220, "color": "#000", "opacity": 1},
    "encoding": {
     "x": {"field": "tt", "type": "quantitative", "scale": {"domain": [0, 30], "nice": false}, "axis": {"title": null}},
     "y": {"field": "ty", "type": "quantitative", "scale": {"domain": [0.4, 1.4], "nice": false}, "axis": null},
     "shape": {"field": "m", "type": "nominal", "scale": {"domain": ["[NAD(P)H]"], "range": ["triangle-down"]}, "legend": {"title": null, "orient": "none", "legendX": 755, "legendY": 46, "symbolSize": 220, "symbolFillColor": "#000", "symbolStrokeColor": "#000", "symbolOpacity": 1, "labelOffset": 17, "labelFontSize": 20}}}},
   {"data": {"name": "ann"}, "transform": [{"filter": "datum.p == 'B'"}],
    "mark": {"type": "text", "fontSize": 26, "fontWeight": "bold", "align": "left", "baseline": "alphabetic", "color": "#000"},
    "encoding": {
     "x": {"field": "lt", "type": "quantitative", "scale": {"domain": [0, 30], "nice": false}, "axis": {"title": null}},
     "y": {"field": "ly", "type": "quantitative", "scale": {"domain": [0.4, 1.4], "nice": false}, "axis": null},
     "text": {"field": "lab"}}}
  ],
  "resolve": {"axis": {"y": "independent"}}
 },
 {
  "width": 297, "height": 182,
  "layer": [
   {"data": {"name": "err"}, "transform": [{"filter": "datum.p == 'C'"}],
    "mark": {"type": "rule", "strokeWidth": 4.5, "opacity": 0.45},
    "encoding": {
     "x": {"field": "t", "type": "quantitative", "scale": {"domain": [0, 30], "nice": false}, "axis": {"title": "time (min)", "titleX": 340, "titleY": 73, "titleBaseline": "alphabetic", "titleFontSize": 20, "titleFontWeight": "normal"}},
     "y": {"field": "lo", "type": "quantitative", "scale": {"domain": [0.4, 1.4], "nice": false}, "axis": null},
     "y2": {"field": "hi"},
     "color": {"field": "conc", "type": "nominal", "scale": {"domain": ["0.00 mM","0.01 mM","0.02 mM","0.05 mM","0.10 mM","0.20 mM","1.00 mM","2.00 mM"], "range": ["#4472C4","#ED7D31","#A5A5A5","#FFC000","#5B9BD5","#70AD47","#264478","#9E480E"]}, "legend": {"title": null, "orient": "none", "legendX": 736, "legendY": 75, "symbolType": "stroke", "symbolSize": 2500, "symbolStrokeWidth": 3, "symbolOpacity": 1, "labelOffset": 4, "rowPadding": 2.5, "labelFontSize": 20}}}},
   {"data": {"name": "lines"}, "transform": [{"filter": "datum.p == 'C'"}, {"fold": ["a","b","c","d","e","f","g","h"], "as": ["k","y"]}, {"lookup": "k", "from": {"data": {"name": "conc"}, "key": "k", "fields": ["conc"]}}],
    "mark": {"type": "line", "strokeWidth": 3, "strokeJoin": "round"},
    "encoding": {
     "x": {"field": "t", "type": "quantitative", "scale": {"domain": [0, 30], "nice": false}, "axis": {"title": "time (min)", "titleX": 340, "titleY": 73, "titleBaseline": "alphabetic", "titleFontSize": 20, "titleFontWeight": "normal"}},
     "y": {"field": "y", "type": "quantitative", "scale": {"domain": [0.4, 1.4], "nice": false}, "axis": {"title": "NADPH", "titleFontSize": 26, "titleFontWeight": "bold", "titlePadding": 56}},
     "color": {"field": "conc", "type": "nominal", "scale": {"domain": ["0.00 mM","0.01 mM","0.02 mM","0.05 mM","0.10 mM","0.20 mM","1.00 mM","2.00 mM"], "range": ["#4472C4","#ED7D31","#A5A5A5","#FFC000","#5B9BD5","#70AD47","#264478","#9E480E"]}, "legend": {"title": null, "orient": "none", "legendX": 736, "legendY": 75, "symbolType": "stroke", "symbolSize": 2500, "symbolStrokeWidth": 3, "symbolOpacity": 1, "labelOffset": 4, "rowPadding": 2.5, "labelFontSize": 20}}}},
   {"data": {"name": "ann"}, "transform": [{"filter": "datum.p == 'C'"}],
    "mark": {"type": "point", "filled": true, "size": 220, "color": "#000", "opacity": 1},
    "encoding": {
     "x": {"field": "tt", "type": "quantitative", "scale": {"domain": [0, 30], "nice": false}, "axis": {"title": "time (min)", "titleX": 340, "titleY": 73, "titleBaseline": "alphabetic", "titleFontSize": 20, "titleFontWeight": "normal"}},
     "y": {"field": "ty", "type": "quantitative", "scale": {"domain": [0.4, 1.4], "nice": false}, "axis": null},
     "shape": {"field": "m", "type": "nominal", "scale": {"domain": ["[NAD(P)H]"], "range": ["triangle-down"]}, "legend": {"title": null, "orient": "none", "legendX": 755, "legendY": 46, "symbolSize": 220, "symbolFillColor": "#000", "symbolStrokeColor": "#000", "symbolOpacity": 1, "labelOffset": 17, "labelFontSize": 20}}}},
   {"data": {"name": "ann"}, "transform": [{"filter": "datum.p == 'C'"}],
    "mark": {"type": "text", "fontSize": 26, "fontWeight": "bold", "align": "left", "baseline": "alphabetic", "color": "#000"},
    "encoding": {
     "x": {"field": "lt", "type": "quantitative", "scale": {"domain": [0, 30], "nice": false}, "axis": {"title": "time (min)", "titleX": 340, "titleY": 73, "titleBaseline": "alphabetic", "titleFontSize": 20, "titleFontWeight": "normal"}},
     "y": {"field": "ly", "type": "quantitative", "scale": {"domain": [0.4, 1.4], "nice": false}, "axis": null},
     "text": {"field": "lab"}}}
  ],
  "resolve": {"axis": {"y": "independent"}}
 },
 {
  "width": 297, "height": 182,
  "layer": [
   {"data": {"name": "err"}, "transform": [{"filter": "datum.p == 'D'"}],
    "mark": {"type": "rule", "strokeWidth": 4.5, "opacity": 0.45},
    "encoding": {
     "x": {"field": "t", "type": "quantitative", "scale": {"domain": [0, 30], "nice": false}, "axis": {"title": null}},
     "y": {"field": "lo", "type": "quantitative", "scale": {"domain": [0.4, 1.4], "nice": false}, "axis": null},
     "y2": {"field": "hi"},
     "color": {"field": "conc", "type": "nominal", "scale": {"domain": ["0.00 mM","0.01 mM","0.02 mM","0.05 mM","0.10 mM","0.20 mM","1.00 mM","2.00 mM"], "range": ["#4472C4","#ED7D31","#A5A5A5","#FFC000","#5B9BD5","#70AD47","#264478","#9E480E"]}, "legend": {"title": null, "orient": "none", "legendX": 736, "legendY": 75, "symbolType": "stroke", "symbolSize": 2500, "symbolStrokeWidth": 3, "symbolOpacity": 1, "labelOffset": 4, "rowPadding": 2.5, "labelFontSize": 20}}}},
   {"data": {"name": "lines"}, "transform": [{"filter": "datum.p == 'D'"}, {"fold": ["a","b","c","d","e","f","g","h"], "as": ["k","y"]}, {"lookup": "k", "from": {"data": {"name": "conc"}, "key": "k", "fields": ["conc"]}}],
    "mark": {"type": "line", "strokeWidth": 3, "strokeJoin": "round"},
    "encoding": {
     "x": {"field": "t", "type": "quantitative", "scale": {"domain": [0, 30], "nice": false}, "axis": {"title": null}},
     "y": {"field": "y", "type": "quantitative", "scale": {"domain": [0.4, 1.4], "nice": false}, "axis": {"title": null}},
     "color": {"field": "conc", "type": "nominal", "scale": {"domain": ["0.00 mM","0.01 mM","0.02 mM","0.05 mM","0.10 mM","0.20 mM","1.00 mM","2.00 mM"], "range": ["#4472C4","#ED7D31","#A5A5A5","#FFC000","#5B9BD5","#70AD47","#264478","#9E480E"]}, "legend": {"title": null, "orient": "none", "legendX": 736, "legendY": 75, "symbolType": "stroke", "symbolSize": 2500, "symbolStrokeWidth": 3, "symbolOpacity": 1, "labelOffset": 4, "rowPadding": 2.5, "labelFontSize": 20}}}},
   {"data": {"name": "ann"}, "transform": [{"filter": "datum.p == 'D'"}],
    "mark": {"type": "point", "filled": true, "size": 220, "color": "#000", "opacity": 1},
    "encoding": {
     "x": {"field": "tt", "type": "quantitative", "scale": {"domain": [0, 30], "nice": false}, "axis": {"title": null}},
     "y": {"field": "ty", "type": "quantitative", "scale": {"domain": [0.4, 1.4], "nice": false}, "axis": null},
     "shape": {"field": "m", "type": "nominal", "scale": {"domain": ["[NAD(P)H]"], "range": ["triangle-down"]}, "legend": {"title": null, "orient": "none", "legendX": 755, "legendY": 46, "symbolSize": 220, "symbolFillColor": "#000", "symbolStrokeColor": "#000", "symbolOpacity": 1, "labelOffset": 17, "labelFontSize": 20}}}},
   {"data": {"name": "ann"}, "transform": [{"filter": "datum.p == 'D'"}],
    "mark": {"type": "text", "fontSize": 26, "fontWeight": "bold", "align": "left", "baseline": "alphabetic", "color": "#000"},
    "encoding": {
     "x": {"field": "lt", "type": "quantitative", "scale": {"domain": [0, 30], "nice": false}, "axis": {"title": null}},
     "y": {"field": "ly", "type": "quantitative", "scale": {"domain": [0.4, 1.4], "nice": false}, "axis": null},
     "text": {"field": "lab"}}}
  ],
  "resolve": {"axis": {"y": "independent"}}
 }
],
"columns": 2,
"spacing": {"row": 94, "column": 92},
"bounds": "flush"
}
